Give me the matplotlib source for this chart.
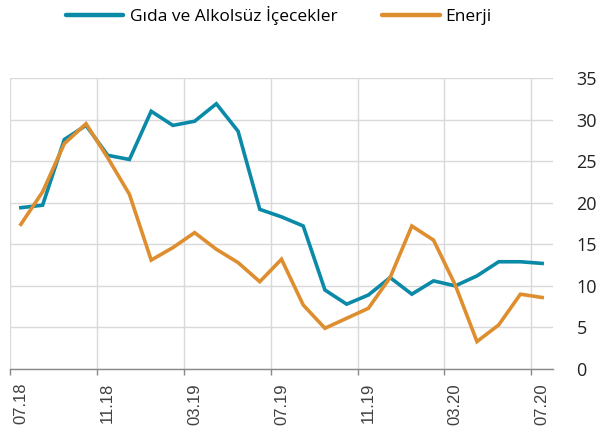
import numpy as np
import matplotlib
matplotlib.use("Agg")
import matplotlib.pyplot as plt

# === 数据 ===
months = ["07.18", "08.18", "09.18", "10.18", "11.18", "12.18", "01.19", "02.19",
          "03.19", "04.19", "05.19", "06.19", "07.19", "08.19", "09.19", "10.19",
          "11.19", "12.19", "01.20", "02.20", "03.20", "04.20", "05.20", "06.20", "07.20"]
gida = [19.4, 19.7, 27.6, 29.3, 25.7, 25.2, 31.0, 29.3, 29.8, 31.9, 28.6, 19.2, 18.3,
        17.2, 9.5, 7.8, 8.9, 11.0, 9.0, 10.6, 10.0, 11.2, 12.9, 12.9, 12.7]
enerji = [17.4, 21.3, 27.1, 29.5, 25.4, 21.0, 13.1, 14.6, 16.4, 14.4, 12.8, 10.5, 13.2,
          7.7, 4.9, 6.1, 7.3, 11.0, 17.2, 15.5, 10.1, 3.3, 5.3, 9.0, 8.6]
series_names = ["Gıda ve Alkolsüz İçecekler", "Enerji"]
colors = ["#0B8AA8", "#DE8E2E"]

plt.rcParams['font.family'] = ['Open Sans', 'DejaVu Sans']

fig = plt.figure(figsize=(6.08, 4.37), dpi=100)
ax = fig.add_axes([10 / 608, 1 - 369 / 437, 543 / 608, 291 / 437])

x = np.arange(len(months))
ax.plot(x, gida, color=colors[0], lw=2.6, label=series_names[0], solid_joinstyle='miter')
ax.plot(x, enerji, color=colors[1], lw=2.6, label=series_names[1], solid_joinstyle='miter')

ax.set_xlim(-0.5, len(months) - 0.5)
ax.set_ylim(0, 35)

# x 轴：刻度线在类别边界，标签在类别中心
major = x[::4]
ax.set_xticks(major)
ax.set_xticklabels([months[i] for i in major], rotation=90, fontsize=12,
                   color="#404040", family=['Liberation Sans', 'DejaVu Sans'])
ax.set_xticks(major - 0.5, minor=True)
ax.tick_params(axis='x', which='major', length=0, pad=10)
ax.tick_params(axis='x', which='minor', length=4, color="#888888", width=1)
ax.grid(True, axis='x', which='minor', color="#D9D9D9", lw=1)

# y 轴在右侧
ax.yaxis.tick_right()
ax.set_yticks(range(0, 36, 5))
ax.tick_params(axis='y', length=0, pad=17, labelsize=13, labelcolor="#222222")
ax.grid(True, axis='y', which='major', color="#D9D9D9", lw=1)
ax.set_axisbelow(True)

for s in ['top', 'right', 'left']:
    ax.spines[s].set_visible(False)
ax.spines['bottom'].set_color("#888888")
ax.spines['bottom'].set_linewidth(1)

leg = fig.legend(loc='upper left', bbox_to_anchor=(54 / 608, 1.015), ncol=2, frameon=False,
                 fontsize=12.5, handlelength=3.3, handletextpad=0.35, columnspacing=2.6,
                 borderaxespad=0.3)
for line in leg.get_lines():
    line.set_linewidth(3.2)
    line.set_solid_capstyle('round')

fig.savefig("out.png", dpi=100)
